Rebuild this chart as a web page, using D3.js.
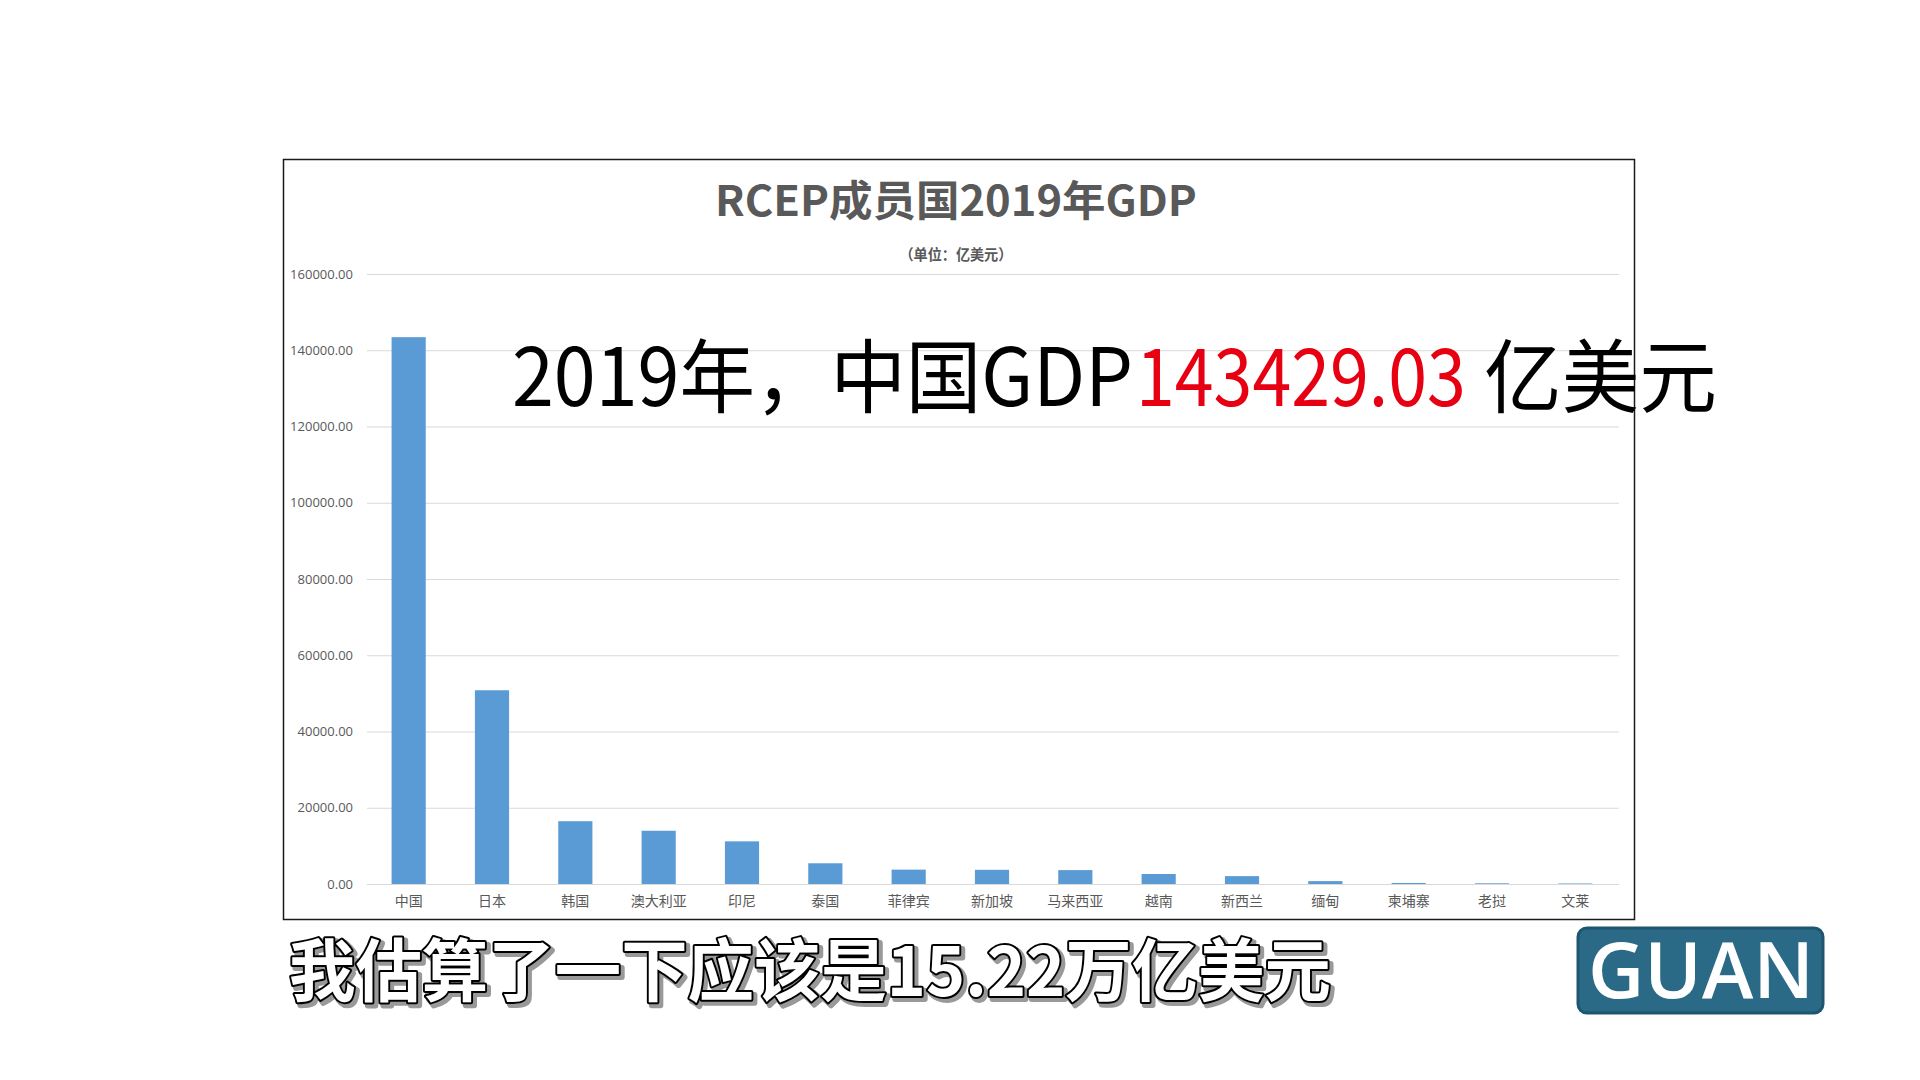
<!DOCTYPE html>
<html><head><meta charset="utf-8">
<script src="https://cdn.jsdelivr.net/npm/d3@7/dist/d3.min.js"></script>
<style>body{margin:0;background:#fff}svg{display:block}</style>
</head><body>
<svg id="c" width="1920" height="1080"></svg>
<script>
const countries = ["中国","日本","韩国","澳大利亚","印尼","泰国","菲律宾","新加坡","马来西亚","越南","新西兰","缅甸","柬埔寨","老挝","文莱"];
const gdp = [143429.03, 50817.7, 16467.0, 13965.0, 11191.0, 5436.0, 3768.0, 3721.0, 3647.0, 2619.0, 2069.0, 761.0, 270.0, 182.0, 135.0];
const yTicks = [0,20000,40000,60000,80000,100000,120000,140000,160000];
const titleText = "RCEP成员国2019年GDP";
const unitText = "（单位：亿美元）";
const captionParts = ["2019年，中国GDP","143429.03","亿美元"];
const subtitleText = "我估算了一下应该是15.22万亿美元";
const logoText = "GUAN";

const svg = d3.select("#c");
const cjk = "'Noto Sans CJK SC','Noto Sans',sans-serif";

// fit a text element horizontally to a target width by scaling in x
function fit(sel, x, yb, w, anchor) {
  sel.attr("x",0).attr("y",0);
  const nat = sel.node().getComputedTextLength();
  const s = w / nat;
  const left = anchor === "middle" ? x - w/2 : x;
  sel.attr("text-anchor","start").attr("transform",`translate(${left},${yb}) scale(${s},1)`);
  return sel;
}

// chart frame
svg.append("rect").attr("x",283.5).attr("y",159.5).attr("width",1351).attr("height",760)
  .attr("fill","#fff").attr("stroke","#1a1a1a").attr("stroke-width",1.5);

const x = d3.scaleBand().domain(countries).range([367,1617]).paddingInner(0.59).paddingOuter(0.295);
const y = d3.scaleLinear().domain([0,160000]).range([884,274]);

// gridlines
svg.append("g").selectAll("line").data(yTicks).join("line")
  .attr("x1",367).attr("x2",1619).attr("y1",d=>y(d)+0.5).attr("y2",d=>y(d)+0.5)
  .attr("stroke","#d9d9d9").attr("stroke-width",1);

// y axis labels
const ya = svg.append("g").attr("transform","translate(367,0)")
  .call(d3.axisLeft(y).tickValues(yTicks).tickFormat(d3.format(".2f")).tickSize(0).tickPadding(14));
ya.select(".domain").remove();
ya.selectAll("text").attr("fill","#595959").style("font-family","'Open Sans','Liberation Sans',sans-serif").style("font-size","13px");

// bars
svg.append("g").selectAll("rect").data(gdp).join("rect")
  .attr("x",(d,i)=>x(countries[i])).attr("width",x.bandwidth())
  .attr("y",d=>y(d)).attr("height",d=>y(0)-y(d)).attr("fill","#5b9bd5");

// x axis labels
const xa = svg.append("g").attr("transform","translate(0,884)")
  .call(d3.axisBottom(x).tickSize(0).tickPadding(12));
xa.select(".domain").remove();
xa.selectAll("text").attr("fill","#595959").style("font-family",cjk).style("font-size","14px");

// title
fit(svg.append("text")
  .style("font-family",cjk).style("font-weight","700").style("font-size","42px").attr("fill","#595959")
  .text(titleText), 956, 216, 482, "middle");
fit(svg.append("text")
  .style("font-family",cjk).style("font-weight","700").style("font-size","15px").attr("fill","#595959")
  .text(unitText), 956, 260, 113, "middle");

// overlay caption
const capX = [512,1136,1484], capW = [621,330,233], capC = ["#000","#e60012","#000"];
captionParts.forEach((t,i)=>{
  fit(svg.append("text")
    .style("font-family",cjk).style("font-weight","400").style("font-size","80px")
    .attr("fill",capC[i]).text(t), capX[i], 406, capW[i], "start");
});

// subtitle with outline and soft shadow
fit(svg.append("text")
  .style("font-family",cjk).style("font-weight","700").style("font-size","68px")
  .attr("fill","#999").attr("stroke","#999").attr("stroke-width",6).attr("stroke-linejoin","round")
  .text(subtitleText), 292, 999, 1042, "start");
fit(svg.append("text")
  .style("font-family",cjk).style("font-weight","700").style("font-size","68px")
  .attr("fill","#fff").attr("stroke","#000").attr("stroke-width",4).attr("stroke-linejoin","round")
  .style("paint-order","stroke")
  .text(subtitleText), 289, 996, 1042, "start");

// logo
svg.append("rect").attr("x",1578).attr("y",928).attr("width",245).attr("height",85).attr("rx",9)
  .attr("fill","#2b6a86").attr("stroke","#1e5670").attr("stroke-width",3);
fit(svg.append("text")
  .style("font-family","'Open Sans','Liberation Sans',sans-serif").style("font-weight","600").style("font-size","78px")
  .attr("fill","#fff").text(logoText), 1588, 998, 226, "start");
</script>
</body></html>
